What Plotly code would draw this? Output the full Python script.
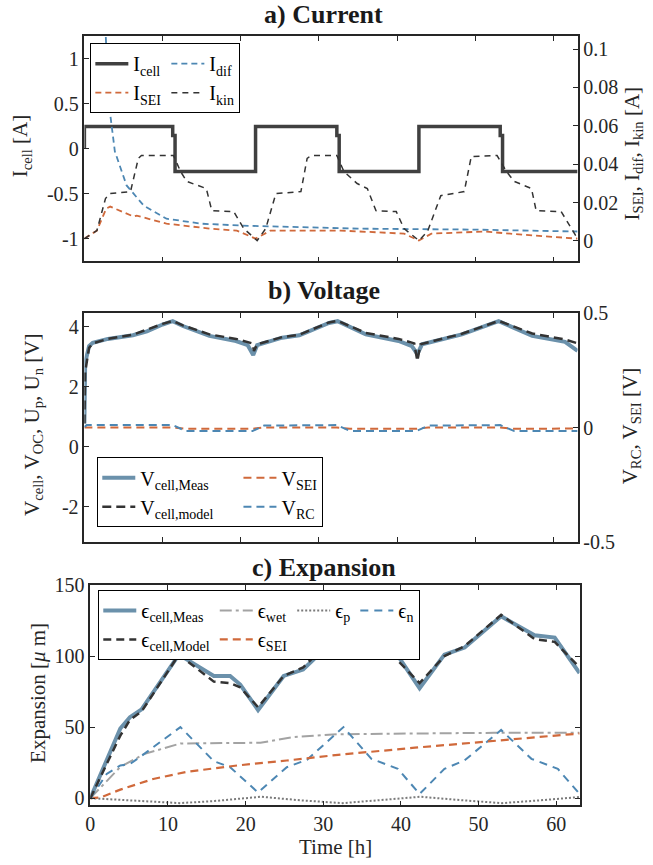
import plotly.graph_objects as go

# ---------------- data ----------------
# a) Current
t_icell = [0, 0, 11.3, 11.3, 11.6, 11.6, 21.9, 21.9, 32.3, 32.3, 32.6, 32.6, 42.8, 42.8, 53.2, 53.2, 53.5, 53.5, 63.1]
i_cell = [0, 0.25, 0.25, 0.15, 0.15, -0.25, -0.25, 0.25, 0.25, 0.15, 0.15, -0.25, -0.25, 0.25, 0.25, 0.15, 0.15, -0.25, -0.25]

t_idif = [2.3, 2.7, 3.1, 3.9, 5.4, 7.6, 10.5, 14.9, 20, 25.5, 35, 50, 63.1]
i_dif = [0.2, 0.11, 0.0727, 0.0466, 0.0289, 0.0184, 0.0116, 0.009, 0.008, 0.0075, 0.0064, 0.0059, 0.0049]

t_isei = [0, 1.6, 2.8, 3.3, 6.3, 6.7, 10.5, 16.1, 19.5, 21.9, 23.8, 27.7, 32.8, 40.9, 42.8, 44.4, 51.1, 57.6, 63.1]
i_sei = [0.0012, 0.0054, 0.0169, 0.0179, 0.0127, 0.0132, 0.009, 0.0064, 0.0054, 0.0012, 0.0054, 0.0054, 0.0054, 0.0038, 0.0002, 0.0038, 0.0049, 0.0028, 0.0012]

t_ikin = [0, 1.6, 2.7, 3.3, 5.9, 6.9, 7.3, 11.4, 12.3, 13.1, 15.6, 16.3, 19.1, 20.4, 22.1, 23.2, 24.5, 27.7, 28.5, 29,
          32.3, 33.2, 34.9, 36.2, 37.3, 39.9, 40.9, 42.8, 43.9, 45.6, 48.6, 49.5, 52.8, 54, 55, 57.2, 57.8, 61, 63.1]
i_kin = [0.0012, 0.0054, 0.0221, 0.0247, 0.0257, 0.043, 0.0445, 0.0445, 0.0362, 0.031, 0.0273, 0.0158, 0.0153, 0.0064, 0.0002, 0.0064, 0.0247, 0.0257, 0.043, 0.0445,
         0.0445, 0.0362, 0.0299, 0.0273, 0.0158, 0.0153, 0.0064, 0.0002, 0.0049, 0.0236, 0.0257, 0.044, 0.0445, 0.0362, 0.031, 0.0273, 0.0158, 0.0153, 0.0012]

# b) Voltage
t_vmeas = [0, 0.1, 0.6, 1.07, 3, 6.2, 8, 10, 11.3, 12.6, 16, 19.4, 20.9, 21.6, 22.1, 25.3, 27.5, 31.3, 32.4, 36, 40.2, 41.9, 42.6, 43.2, 48.3, 53, 57.3, 61.5, 63.1]
v_meas = [0.78, 2.8, 3.36, 3.47, 3.6, 3.72, 3.85, 4.08, 4.19, 4.03, 3.7, 3.53, 3.39, 3.06, 3.39, 3.64, 3.72, 4.13, 4.19, 3.75, 3.53, 3.36, 3.09, 3.42, 3.75, 4.19, 3.7, 3.5, 3.2]
t_vmodel = [0, 0.1, 0.6, 1.07, 3, 6.2, 10, 11.3, 12.6, 16, 19.4, 21.5, 21.7, 22.1, 25.3, 27.5, 31.3, 32.4, 36, 40.2, 42.2, 42.6, 43.0, 48.3, 53, 57.3, 61.5, 63.1]
v_model = [0.78, 2.5, 3.3, 3.45, 3.6, 3.74, 4.1, 4.2, 4.05, 3.75, 3.6, 3.45, 3.2, 3.42, 3.66, 3.74, 4.15, 4.2, 3.8, 3.6, 3.45, 2.86, 3.42, 3.77, 4.2, 3.78, 3.58, 3.45]
t_vrc = [0, 0.3, 11.3, 13, 21.5, 23, 32.3, 34, 42.5, 44, 53.2, 55, 63.1]
v_rc = [0.003, 0.011, 0.011, -0.015, -0.015, 0.009, 0.011, -0.015, -0.015, 0.009, 0.011, -0.015, -0.015]
t_vsei = [0, 0.3, 11.3, 13, 21.5, 23, 32.3, 34, 42.5, 44, 53.2, 55, 63.1]
v_sei = [0.0, 0.001, 0.001, -0.005, -0.005, 0.001, 0.001, -0.005, -0.005, 0.001, 0.001, -0.005, -0.004]

# c) Expansion
t_emeas = [0, 3.86, 5.1, 6.6, 11.4, 13.3, 15.9, 18, 19.3, 21.6, 24.9, 27.4, 29.6, 31.9, 32.4, 36.6, 39.2, 42.4, 45.6, 48.2, 52.9, 57.2, 59.8, 63]
e_meas = [0, 49, 57, 62.5, 101, 95, 86, 86, 80, 62, 86, 90.5, 102, 118, 119, 104.7, 103.5, 77.4, 101, 106, 128, 114.6, 113, 88]
t_emodel = [0, 3.86, 5.1, 6.6, 11.4, 13.3, 15.9, 18, 19.3, 21.6, 24.9, 27.4, 29.6, 31.9, 32.4, 36.6, 39.2, 42.4, 45.6, 48.2, 52.9, 57.2, 59.8, 63]
e_model = [0, 44, 55, 61, 101, 93, 82, 81, 78, 64, 86, 92, 104, 118, 120, 101, 99, 81, 100, 107, 129, 112, 110, 92]
t_ewet = [0, 3.86, 6.9, 11.6, 21.9, 26.1, 31.9, 42, 52, 63]
e_wet = [0, 22, 31, 38.5, 39, 43, 45, 45.5, 46, 46]
t_ep = [0, 5, 11.5, 16, 22, 27, 32.5, 37, 42.5, 48, 53, 58, 63]
e_p = [0, -1.5, -3.5, -2, 1, -1.5, -3.5, -1.5, 1, -1.5, -3.5, -1.5, 0.8]
t_en = [0, 2.1, 3.86, 5.1, 6.9, 11.6, 15.9, 18, 21.6, 25.3, 27.9, 31.9, 32.6, 36.2, 39.6, 42.4, 45.6, 48.2, 52.9, 56.8, 60.2, 63]
e_n = [0, 17, 23, 24, 31, 50, 26, 21.8, 4, 21.8, 27, 46, 50, 27.7, 20.6, 3, 20.6, 26.6, 48, 27.7, 20.6, 3]
t_esei = [0, 1.3, 3.86, 8.1, 12.4, 18.9, 25.3, 31.9, 41.8, 52.5, 63]
e_sei = [0, 0.5, 6, 13.5, 18.5, 23, 26.5, 30.5, 35.5, 40.5, 45.5]

# tick labels
ya_vals = [-1, -0.5, 0, 0.5, 1]
ya_text = ['-1', '-0.5', '0', '0.5', '1']
ya2_vals = [0, 0.02, 0.04, 0.06, 0.08, 0.1]
ya2_text = ['0', '0.02', '0.04', '0.06', '0.08', '0.1']
yb_vals = [-2, 0, 2, 4]
yb_text = ['-2', '0', '2', '4']
yb2_vals = [-0.5, 0, 0.5]
yb2_text = ['-0.5', '0', '0.5']
yc_vals = [0, 50, 100, 150]
x_vals = [0, 10, 20, 30, 40, 50, 60]

# ---------------- style ----------------
W, H = 653, 865
FONT = "Liberation Serif, Times New Roman, serif"
AX = '#262626'
BLUE = '#4d87b3'
ORANGE = '#d0693b'
MEAS = '#6b91ab'
SP = '&nbsp;'


def fx(p):
    return p / W


def fy(p):
    return 1 - p / H


fig = go.Figure()

# panel a
fig.add_trace(go.Scatter(x=t_icell, y=i_cell, mode='lines', name='I<sub>cell</sub>',
                         line=dict(color='#404040', width=3.5), legend='legend', legendgroup='a1',
                         xaxis='x', yaxis='y'))
fig.add_trace(go.Scatter(x=t_idif, y=i_dif, mode='lines', name='I<sub>dif</sub>',
                         line=dict(color=BLUE, width=1.8, dash='6px,4px'), legend='legend', legendgroup='a2',
                         xaxis='x', yaxis='y2'))
fig.add_trace(go.Scatter(x=t_isei, y=i_sei, mode='lines', name='I<sub>SEI</sub>',
                         line=dict(color=ORANGE, width=1.8, dash='6px,4px'), legend='legend', legendgroup='a1',
                         xaxis='x', yaxis='y2'))
fig.add_trace(go.Scatter(x=t_ikin, y=i_kin, mode='lines', name='I<sub>kin</sub>',
                         line=dict(color='#333333', width=1.5, dash='6px,5px'), legend='legend', legendgroup='a2',
                         xaxis='x', yaxis='y2'))

# panel b
fig.add_trace(go.Scatter(x=t_vmeas, y=v_meas, mode='lines', name='V<sub>cell,Meas</sub>',
                         line=dict(color=MEAS, width=4), legend='legend2', legendgroup='b1',
                         xaxis='x2', yaxis='y3'))
fig.add_trace(go.Scatter(x=t_vmodel, y=v_model, mode='lines', name='V<sub>cell,model</sub>' + SP * 4,
                         line=dict(color='#333333', width=2.5, dash='9px,5px'), legend='legend2', legendgroup='b1',
                         xaxis='x2', yaxis='y3'))
fig.add_trace(go.Scatter(x=t_vsei, y=v_sei, mode='lines', name='V<sub>SEI</sub>',
                         line=dict(color=ORANGE, width=2, dash='8px,5px'), legend='legend2', legendgroup='b2',
                         xaxis='x2', yaxis='y4'))
fig.add_trace(go.Scatter(x=t_vrc, y=v_rc, mode='lines', name='V<sub>RC</sub>',
                         line=dict(color=BLUE, width=2, dash='8px,5px'), legend='legend2', legendgroup='b2',
                         xaxis='x2', yaxis='y4'))

# panel c
fig.add_trace(go.Scatter(x=t_ewet, y=e_wet, mode='lines', name='ϵ<sub>wet</sub>',
                         line=dict(color='#a3a3a3', width=2, dash='12px,4px,3px,4px'), legend='legend3', legendgroup='c2',
                         xaxis='x3', yaxis='y5'))
fig.add_trace(go.Scatter(x=t_ep, y=e_p, mode='lines', name='ϵ<sub>p</sub>',
                         line=dict(color='#7a7a7a', width=2, dash='2px,2px'), legend='legend3', legendgroup='c3',
                         xaxis='x3', yaxis='y5'))
fig.add_trace(go.Scatter(x=t_en, y=e_n, mode='lines', name='ϵ<sub>n</sub>',
                         line=dict(color=BLUE, width=2, dash='8px,6px'), legend='legend3', legendgroup='c4',
                         xaxis='x3', yaxis='y5'))
fig.add_trace(go.Scatter(x=t_esei, y=e_sei, mode='lines', name='ϵ<sub>SEI</sub>',
                         line=dict(color=ORANGE, width=2.2, dash='8px,5px'), legend='legend3', legendgroup='c2',
                         xaxis='x3', yaxis='y5'))
fig.add_trace(go.Scatter(x=t_emeas, y=e_meas, mode='lines', name='ϵ<sub>cell,Meas</sub>',
                         line=dict(color=MEAS, width=4), legend='legend3', legendgroup='c1',
                         xaxis='x3', yaxis='y5', legendrank=1))
fig.add_trace(go.Scatter(x=t_emodel, y=e_model, mode='lines', name='ϵ<sub>cell,Model</sub>',
                         line=dict(color='#333333', width=2.5, dash='8px,5px'), legend='legend3', legendgroup='c1',
                         xaxis='x3', yaxis='y5', legendrank=2))

tickfont = dict(family=FONT, size=20, color=AX)
common = dict(showline=True, linecolor=AX, linewidth=1.5, ticks='inside', ticklen=5, tickwidth=1,
              tickcolor=AX, showgrid=False, zeroline=False, tickfont=tickfont)

dom_ab = [fx(80), fx(577)]
fig.update_layout(
    xaxis=dict(domain=dom_ab, anchor='y', range=[0, 63.1], tickvals=x_vals[1:], showticklabels=False,
               mirror='ticks', **common),
    yaxis=dict(domain=[fy(257), fy(26)], anchor='x', range=[-1.25, 1.25], tickvals=ya_vals,
               ticktext=ya_text, **common),
    yaxis2=dict(overlaying='y', side='right', anchor='x', range=[-0.0107, 0.1066], tickvals=ya2_vals,
                ticktext=ya2_text, **common),
    xaxis2=dict(domain=dom_ab, anchor='y3', range=[0, 63.1], tickvals=x_vals[1:], showticklabels=False,
                mirror='ticks', **common),
    yaxis3=dict(domain=[fy(545), fy(310)], anchor='x2', range=[-3.18, 4.46], tickvals=yb_vals,
                ticktext=yb_text, **common),
    yaxis4=dict(overlaying='y3', side='right', anchor='x2', range=[-0.5, 0.5], tickvals=yb2_vals,
                ticktext=yb2_text, **common),
    xaxis3=dict(domain=[fx(86), fx(579)], anchor='y5', range=[0, 63], tickvals=x_vals,
                mirror='ticks', **common),
    yaxis5=dict(domain=[fy(815), fy(589)], anchor='x3', range=[-5, 150], tickvals=yc_vals,
                mirror='ticks', **common),
)

legend_common = dict(orientation='h', traceorder='grouped', bgcolor='white', bordercolor='black',
                     borderwidth=1, font=dict(family=FONT, size=20, color='black'),
                     xanchor='left', yanchor='top', itemwidth=33)
fig.update_layout(
    legend=dict(x=fx(86), y=fy(33), **legend_common),
    legend2=dict(x=fx(93), y=fy(458), **legend_common),
    legend3=dict(x=fx(94), y=fy(594), **legend_common),
)

annots = []
title_font = dict(family=FONT, size=26, color='#1a1a1a')
for txt, yc in [('<b>a) Current</b>', 4), ('<b>b) Voltage</b>', 287), ('<b>c) Expansion</b>', 571)]:
    annots.append(dict(text=txt, x=fx(321), y=fy(yc), xref='paper', yref='paper', showarrow=False,
                       xanchor='center', yanchor='middle', font=title_font))
lab_font = dict(family=FONT, size=21, color=AX)
for txt, xc, yc in [('I<sub>cell</sub> [A]', 17, 138),
                    ('I<sub>SEI</sub>, I<sub>dif</sub>, I<sub>kin</sub> [A]', 633, 146),
                    ('V<sub>cell</sub>, V<sub>OC</sub>, U<sub>p</sub>, U<sub>n</sub> [V]', 28, 424),
                    ('V<sub>RC</sub>, V<sub>SEI</sub> [V]', 631, 426),
                    ('Expansion [<i>μ</i> m]', 33, 700)]:
    annots.append(dict(text=txt, x=fx(xc), y=fy(yc), xref='paper', yref='paper', showarrow=False,
                       xanchor='center', yanchor='middle', textangle=-90, font=lab_font))
annots.append(dict(text='Time [h]', x=fx(333), y=fy(858), xref='paper', yref='paper', showarrow=False,
                   xanchor='center', yanchor='middle', font=lab_font))

fig.update_layout(width=W, height=H, margin=dict(l=0, r=0, t=0, b=0), autosize=False,
                  plot_bgcolor='white', paper_bgcolor='white', annotations=annots, showlegend=True,
                  font=dict(family=FONT))

fig.write_html("out.html", config={'displayModeBar': False},
               post_script="document.body.style.margin='0';document.body.style.padding='0';"
                           "document.documentElement.style.overflow='hidden';")
